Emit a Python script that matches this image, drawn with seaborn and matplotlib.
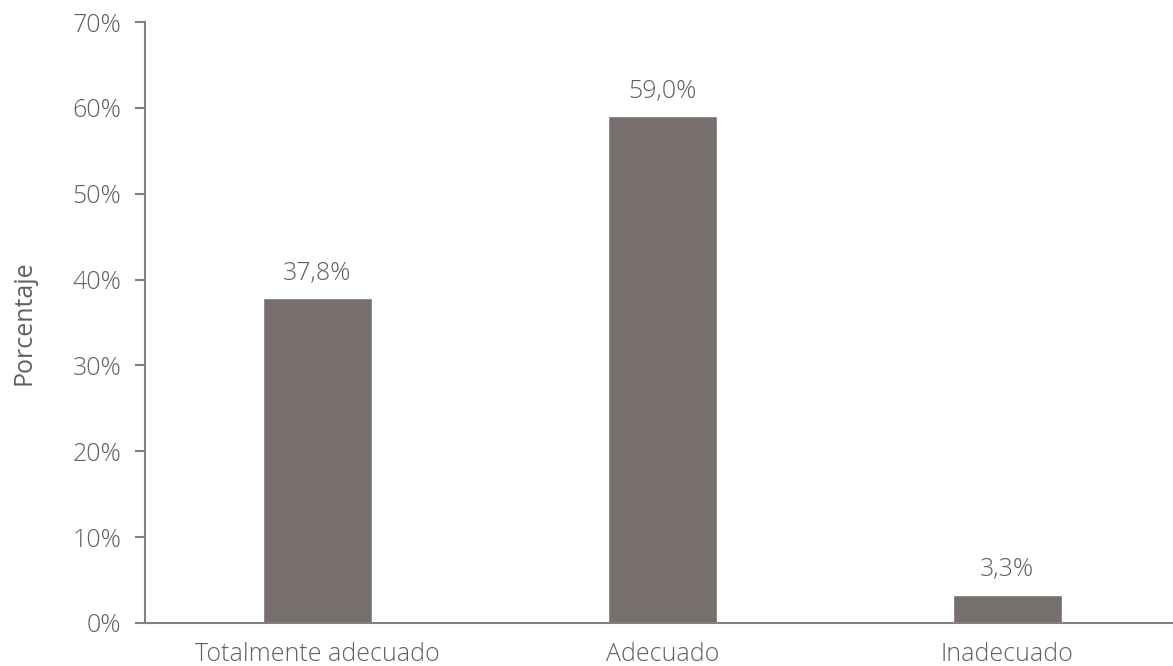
import matplotlib
matplotlib.use("Agg")
import matplotlib.pyplot as plt
import seaborn as sns
import pandas as pd

# Data
categories = ["Totalmente adecuado", "Adecuado", "Inadecuado"]
values = [37.8, 59.0, 3.3]
value_labels = ["37,8%", "59,0%", "3,3%"]
y_ticks = [0, 10, 20, 30, 40, 50, 60, 70]
y_tick_labels = ["0%", "10%", "20%", "30%", "40%", "50%", "60%", "70%"]

df = pd.DataFrame({"categoria": categories, "porcentaje": values})

sns.set_theme(style="white")
plt.rcParams["font.family"] = ["Open Sans", "DejaVu Sans"]
plt.rcParams["font.weight"] = "light"

bar_color = "#776e6e"
text_color = "#606060"
axis_color = "#857f7f"
fs = 18

fig = plt.figure(figsize=(11.73, 6.66), dpi=100)
ax = fig.add_axes([145 / 1173, 1 - 623 / 666, (1173 - 145) / 1173, (623 - 22) / 666])

sns.barplot(data=df, x="categoria", y="porcentaje", color=bar_color,
            width=0.315, saturation=1, ax=ax)

# Value labels above bars
for i, (v, lab) in enumerate(zip(values, value_labels)):
    ax.annotate(lab, (i, v), xytext=(0, 9), textcoords="offset points",
                ha="center", va="bottom", fontsize=fs, color=text_color)

ax.set_ylim(0, 70)
ax.set_xlim(-0.5, 2.48)
ax.set_yticks(y_ticks)
ax.set_yticklabels(y_tick_labels)
ax.set_xlabel("")
ax.set_ylabel("Porcentaje", fontsize=fs, color=text_color, labelpad=26)

ax.tick_params(axis="y", left=True, length=7, width=1.5, color=axis_color,
               labelsize=fs, labelcolor=text_color, pad=10)
ax.tick_params(axis="x", bottom=False, labelsize=fs, labelcolor=text_color, pad=8)

for side in ["top", "right"]:
    ax.spines[side].set_visible(False)
for side in ["left", "bottom"]:
    ax.spines[side].set_color(axis_color)
    ax.spines[side].set_linewidth(1.5)

fig.savefig("out.png", dpi=100)
